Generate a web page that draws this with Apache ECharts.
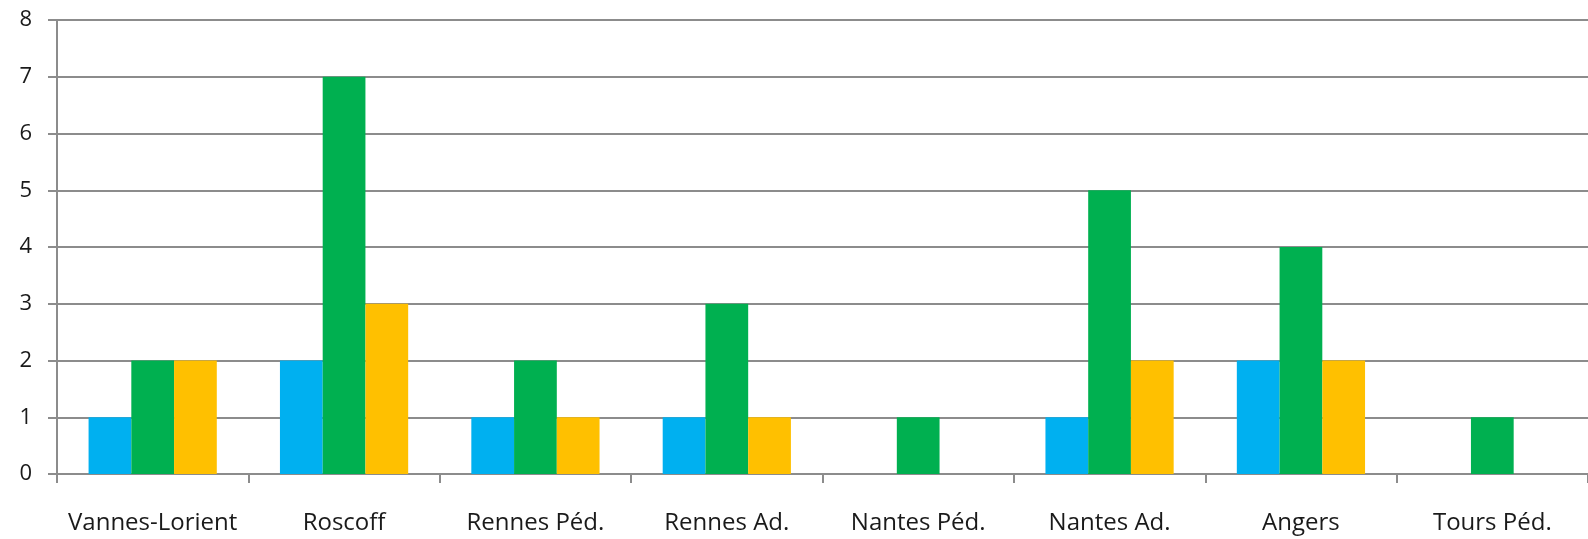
<!DOCTYPE html>
<html>
<head>
<meta charset="utf-8">
<script src="https://cdn.jsdelivr.net/npm/echarts@6/dist/echarts.min.js"></script>
<style>
  html, body { margin: 0; padding: 0; background: #fff; }
  #chart { width: 1588px; height: 539px; }
</style>
</head>
<body>
<div id="chart"></div>
<script>
// catégories et valeurs
var sites = ['Vannes-Lorient', 'Roscoff', 'Rennes Péd.', 'Rennes Ad.', 'Nantes Péd.', 'Nantes Ad.', 'Angers', 'Tours Péd.'];
var serieBleue = [1, 2, 1, 1, null, 1, 2, null];
var serieVerte = [2, 7, 2, 3, 1, 5, 4, 1];
var serieOrange = [2, 3, 1, 1, null, 2, 2, null];

var chart = echarts.init(document.getElementById('chart'));

var gridGray = '#8c8c8c';
var textFont = '"Open Sans", "Liberation Sans", sans-serif';

var option = {
    animation: false,
    grid: {
        left: 57,
        right: -6, // le graphique d'origine est coupé à droite
        top: 20,
        bottom: 65
    },
    xAxis: {
        type: 'category',
        data: sites,
        axisLine: { lineStyle: { color: gridGray, width: 2 } },
        axisTick: { show: true, interval: 0, length: 9, lineStyle: { color: gridGray, width: 2 } },
        axisLabel: {
            interval: 0,
            margin: 37,
            color: '#1a1a1a',
            fontSize: 24,
            fontFamily: textFont
        }
    },
    yAxis: {
        type: 'value',
        min: 0,
        max: 8,
        interval: 1,
        axisLine: { show: true, lineStyle: { color: gridGray, width: 2 } },
        axisTick: { show: true, length: 9, lineStyle: { color: gridGray, width: 2 } },
        splitLine: { lineStyle: { color: gridGray, width: 2 } },
        axisLabel: {
            margin: 25,
            color: '#1a1a1a',
            fontSize: 22,
            fontFamily: textFont
        }
    },
    series: [
        {
            type: 'bar',
            data: serieBleue,
            barGap: '0%',
            barCategoryGap: '33%',
            itemStyle: { color: '#00B0F0' }
        },
        {
            type: 'bar',
            data: serieVerte,
            barGap: '0%',
            barCategoryGap: '33%',
            itemStyle: { color: '#00B050' }
        },
        {
            type: 'bar',
            data: serieOrange,
            barGap: '0%',
            barCategoryGap: '33%',
            itemStyle: { color: '#FFC000' }
        }
    ]
};

chart.setOption(option);
</script>
</body>
</html>
